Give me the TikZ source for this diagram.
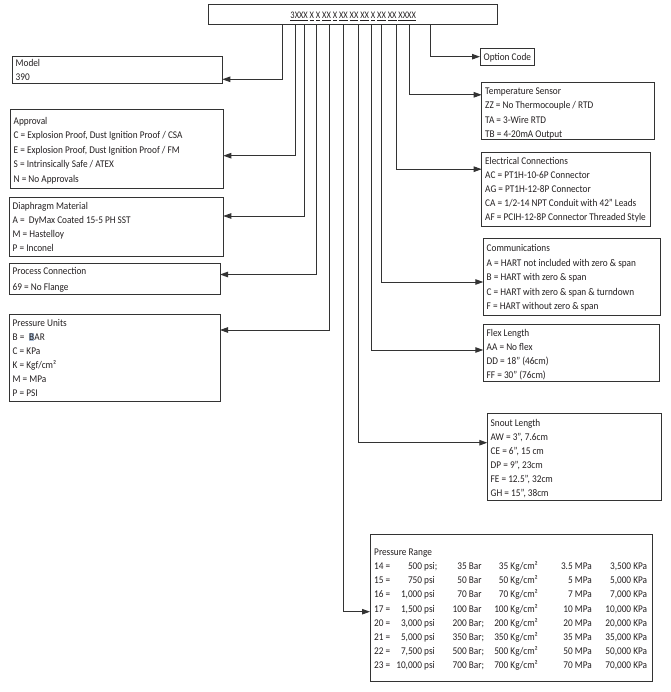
\documentclass[tikz,border=0pt]{standalone}
\usepackage{fontspec}
\setmainfont[FakeStretch=0.9]{Carlito}
\newfontfamily\titlefont[FakeStretch=0.84]{Carlito}
\usetikzlibrary{arrows.meta}
\definecolor{ink}{HTML}{231F20}
\definecolor{ln}{HTML}{333333}
\definecolor{hl}{HTML}{A9BDD6}
\newcommand\kgc{Kg/cm²}
\newcommand\mkbox[5]{%
  \node[box, minimum width={(#4-#2)*1pt}, minimum height={(#5-#3)*1pt}] (#1) at (#2,#3) {};}
\newcommand\boxtext[5]{%
  \foreach \t [count=\i] in {#5} {\node[lbl] (#1-\i) at (#2,{#3+(\i-1)*#4}) {\t};}}
\tikzset{
  box/.style={draw=ln, line width=1pt, anchor=north west, inner sep=0pt, outer sep=0pt},
  lbl/.style={anchor=base west, inner sep=0pt, text=ink, font=\fontsize{10.3}{12}\selectfont},
  rlbl/.style={lbl, anchor=base east},
  arr/.style={draw=ln, line width=0.9pt, -{Triangle[length=8pt,width=5.5pt]}},
}
\begin{document}
\begin{tikzpicture}[x=1pt,y=-1pt]
\useasboundingbox (0,0) rectangle (670,692);
% title
\mkbox{title}{208.3}{5}{497.7}{25}
\node[lbl, anchor=base, font=\titlefont\fontsize{10}{12}\selectfont] (code) at (353.2,19) {\underline{3XXX} \underline{X} \underline{X} \underline{XX} \underline{X} \underline{XX} \underline{XX} \underline{XX} \underline{X} \underline{XX} \underline{XX} \underline{XXXX}};
% left boxes
\mkbox{model}{12.3}{56.7}{222.3}{83.7}
\boxtext{modelT}{15.5}{67}{14}{Model,390}
\mkbox{appr}{10}{109.3}{223.3}{189}
\boxtext{apprT}{13.5}{124.5}{14.4}{Approval,{C = Explosion Proof, Dust Ignition Proof / CSA},{E = Explosion Proof, Dust Ignition Proof / FM},{S = Intrinsically Safe / ATEX},{N = No Approvals}}
\mkbox{diap}{9}{197.3}{223.3}{256.7}
\boxtext{diapT}{12.5}{209.5}{14.1}{Diaphragm Material,{A =\ \ DyMax Coated 15-5 PH SST},{M = Hastelloy},{P = Inconel}}
\mkbox{proc}{9}{263.3}{220}{294}
\boxtext{procT}{12.5}{274.8}{15.2}{Process Connection,{69 = No Flange}}
\mkbox{unit}{9}{314.3}{220}{401.7}
\boxtext{unitT}{12.5}{326.2}{14.1}{Pressure Units,{B =\ \ {\setlength\fboxsep{0.4pt}\colorbox{hl}{B}}AR},{C = KPa},{K = Kgf/cm²},{M = MPa},{P = PSI}}
% right boxes
\mkbox{opt}{480}{48.3}{534}{66}
\boxtext{optT}{483.5}{60.2}{14}{Option Code}
\mkbox{temp}{481.7}{82.7}{654.3}{139.3}
\boxtext{tempT}{485}{94.5}{14.3}{Temperature Sensor,{ZZ = No Thermocouple / RTD},{TA = 3-Wire RTD},{TB = 4-20mA Output}}
\mkbox{elec}{481.7}{152.7}{650.7}{226.7}
\boxtext{elecT}{485}{164.2}{14.1}{Electrical Connections,{AC = PT1H-10-6P Connector},{AG = PT1H-12-8P Connector},{CA = 1/2-14 NPT Conduit with 42” Leads},{AF = PCIH-12-8P Connector Threaded Style}}
\mkbox{comm}{483.3}{239}{660}{315}
\boxtext{commT}{486.5}{251.8}{14.4}{Communications,{A = HART not included with zero \& span},{B = HART with zero \& span},{C = HART with zero \& span \& turndown},{F = HART without zero \& span}}
\mkbox{flex}{483.3}{324}{659.3}{381}
\boxtext{flexT}{486.5}{336.2}{14.1}{Flex Length,{AA = No flex},{DD = 18” (46cm)},{FF = 30” (76cm)}}
\mkbox{snout}{487.3}{413.3}{661}{500}
\boxtext{snoutT}{490.5}{426.2}{14.1}{Snout Length,{AW = 3”, 7.6cm},{CE = 6”, 15 cm},{DP = 9”, 23cm},{FE = 12.5”, 32cm},{GH = 15”, 38cm}}
\mkbox{prange}{370}{534.3}{652.3}{681.7}
\node[lbl] (prT) at (374,555.2) {Pressure Range};
\foreach \a/\b/\c/\d/\e/\f [count=\i] in {
  14/500 psi\rlap{;}/35 Bar/35 \kgc/3.5 MPa/{3,500 KPa},
  15/750 psi/50 Bar/50 \kgc/5 MPa/{5,000 KPa},
  16/{1,000 psi}/70 Bar/70 \kgc/7 MPa/{7,000 KPa},
  17/{1,500 psi}/100 Bar/100 \kgc/10 MPa/{10,000 KPa},
  20/{3,000 psi}/200 Bar\rlap{;}/200 \kgc/20 MPa/{20,000 KPa},
  21/{5,000 psi}/350 Bar\rlap{;}/350 \kgc/35 MPa/{35,000 KPa},
  22/{7,500 psi}/500 Bar\rlap{;}/500 \kgc/50 MPa/{50,000 KPa},
  23/{10,000 psi}/700 Bar\rlap{;}/700 \kgc/70 MPa/{70,000 KPa}} {
  \pgfmathsetmacro\yy{555.2+\i*14.2}
  \node[lbl]  (pr-\i-a) at (374,\yy) {\a\ =};
  \node[rlbl] (pr-\i-b) at (435,\yy) {\b};
  \node[rlbl] (pr-\i-c) at (481.7,\yy) {\c};
  \node[rlbl] (pr-\i-d) at (538,\yy) {\d};
  \node[rlbl] (pr-\i-e) at (592,\yy) {\e};
  \node[rlbl] (pr-\i-f) at (647.3,\yy) {\f};
}
% connectors
\draw[arr] (title.south -| 282.7,0) |- (model.east |- 0,79.3);
\draw[arr] (title.south -| 295,0) |- (appr.east |- 0,155.7);
\draw[arr] (title.south -| 304.3,0) |- (diap.east |- 0,216);
\draw[arr] (title.south -| 316.7,0) |- (proc.east |- 0,274.5);
\draw[arr] (title.south -| 329.3,0) |- (unit.east |- 0,330);
\draw[arr] (title.south -| 343.3,0) |- (prange.west |- 0,611.7);
\draw[arr] (title.south -| 358.5,0) |- (snout.west |- 0,442.7);
\draw[arr] (title.south -| 371,0) |- (flex.west |- 0,350);
\draw[arr] (title.south -| 381.7,0) |- (comm.west |- 0,282);
\draw[arr] (title.south -| 396.7,0) |- (elec.west |- 0,169.2);
\draw[arr] (title.south -| 409,0) |- (temp.west |- 0,94.8);
\draw[arr] (title.south -| 430,0) |- (opt.west |- 0,56.7);
\end{tikzpicture}
\end{document}
